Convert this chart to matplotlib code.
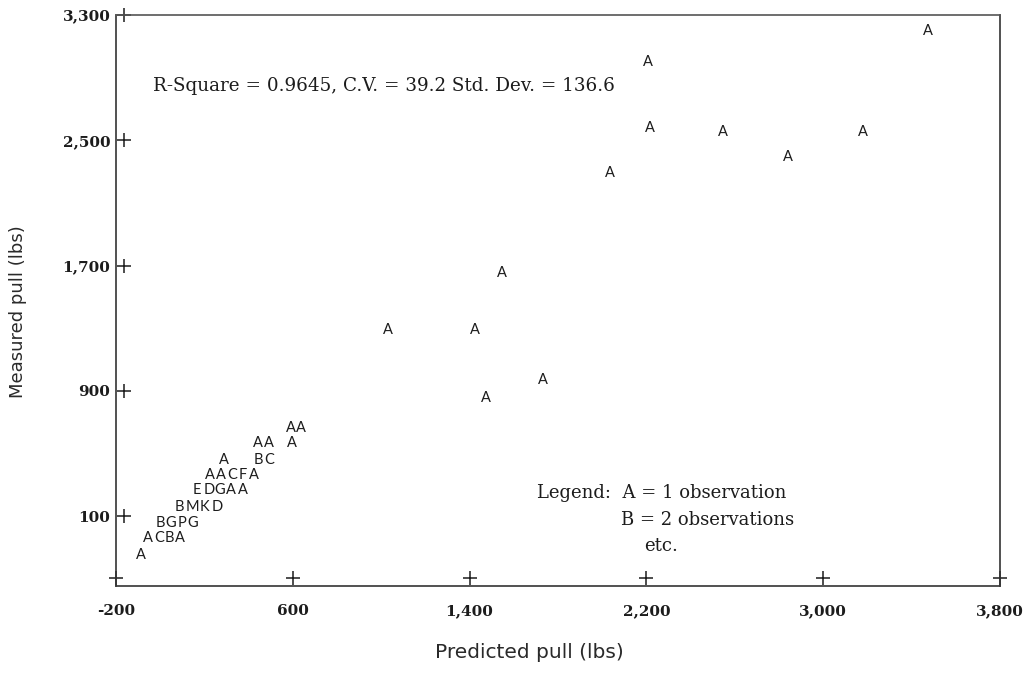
import matplotlib.pyplot as plt
import matplotlib as mpl

# ── fonts ────────────────────────────────────────
mpl.rcParams["font.family"] = ["DejaVu Serif"]
INK = "#1c1c1c"

# ── data (printer-plot symbols: A = 1 obs, B = 2 obs, ...) ──
pred = [3475, 2205, 2215, 2545, 3180, 2840, 2035, 1545, 1030, 1425, 1730, 1475,
        590, 637,
        443, 492, 596,
        289, 443, 492,
        225, 275, 325, 375, 424,
        167, 221, 271, 320, 375,
        85, 144, 198, 257,
        -1, 49, 99, 148,
        -55, -5, 40, 90,
        -87]
meas = [3200, 3000, 2580, 2555, 2555, 2395, 2290, 1655, 1290, 1290, 970, 855,
        663, 663,
        567, 567, 567,
        458, 458, 458,
        363, 363, 363, 363, 363,
        267, 267, 267, 267, 267,
        158, 158, 158, 158,
        56, 56, 56, 56,
        -40, -40, -40, -40,
        -148]
sym = ["A"] * 12 + \
      list("AA") + list("AAA") + list("ABC") + list("AACFA") + \
      list("EDGAA") + list("BMKD") + list("BGPG") + list("ACBA") + ["A"]

x_ticks = [-200, 600, 1400, 2200, 3000, 3800]
y_ticks = [100, 900, 1700, 2500, 3300]

stats_txt = "R-Square = 0.9645, C.V. = 39.2 Std. Dev. = 136.6"

# ── figure ───────────────────────────────────────
fig = plt.figure(figsize=(10.29, 6.77), dpi=100)
ax = fig.add_axes([116 / 1029, 1 - 586 / 677, 884 / 1029, 571 / 677])
ax.set_xlim(-200, 3800)
ax.set_ylim(-347, 3300)

for s in ax.spines.values():
    s.set_color("#333333")
    s.set_linewidth(1.2)
ax.spines["top"].set_color("#555555")

ax.set_xticks(x_ticks)
ax.set_xticklabels([f"{v:,}" for v in x_ticks], fontsize=11, fontweight="bold", color=INK)
ax.set_yticks(y_ticks)
ax.set_yticklabels([f"{v:,}" for v in y_ticks], fontsize=11, fontweight="bold", color=INK)
ax.tick_params(axis="x", length=0, pad=13)
ax.tick_params(axis="y", length=0, pad=4)

# '+' tick marks like the line printer output
ax.plot(x_ticks, [0.014] * len(x_ticks), transform=ax.get_xaxis_transform(),
        ls="none", marker="+", ms=10, mew=1.1, color=INK, clip_on=False)
ax.plot([0.009] * len(y_ticks), y_ticks, transform=ax.get_yaxis_transform(),
        ls="none", marker="+", ms=10, mew=1.1, color=INK, clip_on=False)

# observations
for x, y, s in zip(pred, meas, sym):
    ax.text(x, y, s, ha="center", va="center", fontsize=10.5,
            family=["Lato", "DejaVu Sans"], color=INK)

ax.text(0.042, 0.875, stats_txt, transform=ax.transAxes, ha="left", va="center",
        fontsize=13.2, color=INK)

ax.text(0.476, 0.163, "Legend:  A = 1 observation", transform=ax.transAxes,
        ha="left", va="center", fontsize=13, color=INK)
ax.text(0.571, 0.116, "B = 2 observations", transform=ax.transAxes,
        ha="left", va="center", fontsize=13, color=INK)
ax.text(0.617, 0.070, "etc.", transform=ax.transAxes,
        ha="center", va="center", fontsize=13, color=INK)

fig.text(529 / 1029, 1 - 653 / 677, "Predicted pull (lbs)", ha="center", va="center",
         fontsize=14.5, family=["DejaVu Sans"], color="#2a2a2a")
fig.text(18 / 1029, 1 - 312 / 677, "Measured pull (lbs)", ha="center", va="center",
         rotation=90, fontsize=13, family=["DejaVu Sans"], color="#2a2a2a")

fig.savefig("out.png", dpi=100)
